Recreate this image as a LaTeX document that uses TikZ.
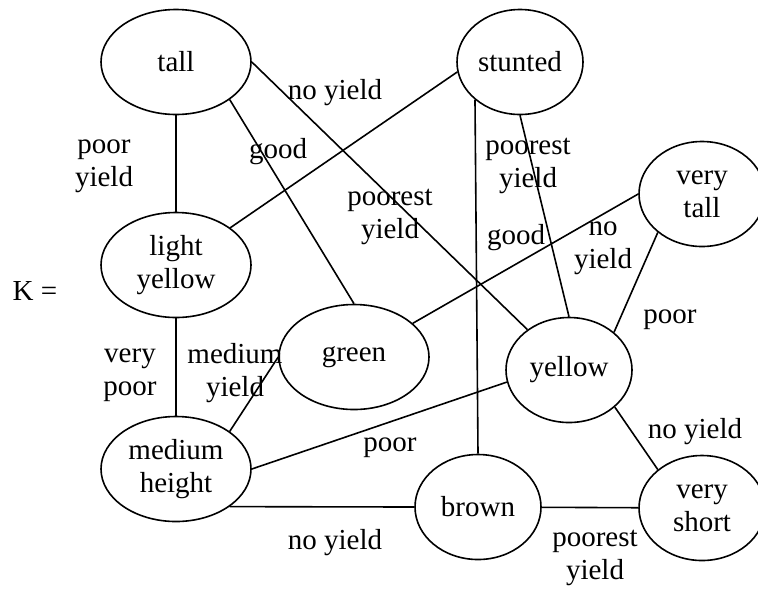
\documentclass[tikz,border=0pt]{standalone}
\usepackage{fontspec}
\setmainfont{Liberation Serif}
\usetikzlibrary{shapes.geometric}

\begin{document}
\begin{tikzpicture}[
  x=0.5pt, y=-0.5pt,
  oval/.style={draw, ellipse, line width=0.8pt, align=center, inner sep=0pt,
    minimum width=63pt, minimum height=52.5pt, font=\fontsize{14.5}{16.5}\selectfont},
  wideoval/.style={oval, minimum width=75pt},
  lbl/.style={align=center, inner sep=0pt, font=\fontsize{14.5}{16.5}\selectfont},
  link/.style={line width=0.8pt}]
  \useasboundingbox (0,0) rectangle (758,590);
  % vertices
  \node[wideoval] (tall) at (176,62) {tall};
  \node[oval] (stunted) at (520,62) {stunted};
  \node[oval] (verytall) at (702,194) {very\\tall};
  \node[wideoval] (lightyellow) at (176,265) {light\\yellow};
  \node[wideoval] (green) at (354,357) {green};
  \node[oval] (yellow) at (569,370) {yellow};
  \node[wideoval] (medheight) at (176,469) {medium\\height};
  \node[oval] (brown) at (478,507) {brown};
  \node[oval] (veryshort) at (702,508) {very\\short};
  \node[lbl] (kname) at (35,291) {K =};
  % edges
  \draw[link] (tall) -- (lightyellow);
  \draw[link] (tall.-35) -- (green.north);
  \draw[link] (tall.east) -- (yellow);
  \draw[link] (stunted.189) -- (lightyellow);
  \draw[link] (stunted.220) -- (brown.north);
  \draw[link] (stunted.south) -- (yellow.north);
  \draw[link] (verytall.west) -- (green);
  \draw[link] (verytall.221) -- (yellow.40);
  \draw[link] (yellow.-39) -- (veryshort.139);
  \draw[link] (yellow.191) -- (medheight.east);
  \draw[link] (green.west) -- (medheight.35);
  \draw[link] (lightyellow) -- (medheight);
  \draw[link] (medheight.-35) -- (brown.west);
  \draw[link] (brown) -- (veryshort);
  % edge labels
  \node[lbl] (l1) at (104,166) {poor\\yield};
  \node[lbl] (l2) at (278,152) {good};
  \node[lbl] (l3) at (335,93) {no yield};
  \node[lbl] (l4) at (390,217) {poorest\\yield};
  \node[lbl] (l5) at (528,166) {poorest\\yield};
  \node[lbl] (l6) at (516,238) {good};
  \node[lbl] (l7) at (603,248) {no\\yield};
  \node[lbl] (l8) at (670,320) {poor};
  \node[lbl] (l9) at (695,432) {no yield};
  \node[lbl] (l10) at (130,375) {very\\poor};
  \node[lbl] (l11) at (235,373) {medium\\yield};
  \node[lbl] (l12) at (390,448) {poor};
  \node[lbl] (l13) at (335,543) {no yield};
  \node[lbl] (l14) at (595,558) {poorest\\yield};
\end{tikzpicture}
\end{document}
